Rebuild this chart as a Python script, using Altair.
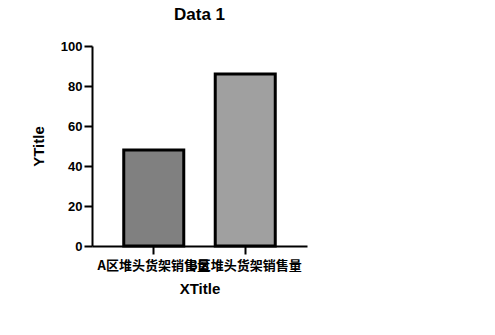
import altair as alt
import pandas as pd

categories = ["A区堆头货架销售量", "B区堆头货架销售量"]
values = [48, 86]
colors = ["#808080", "#a0a0a0"]

df = pd.DataFrame({"cat": categories, "val": values, "color": colors})

chart = alt.Chart(df).mark_bar(stroke="black", strokeWidth=3).encode(
    x=alt.X("cat:N", sort=categories, title="XTitle",
            scale=alt.Scale(paddingInner=0.344, paddingOuter=0.347),
            axis=alt.Axis(labelAngle=0, labelOverlap=False, labelFontSize=13,
                          labelFont="Noto Sans CJK SC", labelFontWeight="bold",
                          labelPadding=5, titlePadding=9)),
    y=alt.Y("val:Q", title="YTitle",
            scale=alt.Scale(domain=[0, 100]),
            axis=alt.Axis(values=[0, 20, 40, 60, 80, 100], grid=False,
                          labelFontSize=13, labelFontWeight="bold",
                          labelPadding=2, titlePadding=14)),
    fill=alt.Fill("color:N", scale=None),
).properties(
    width=215, height=200,
    background="white",
    title=alt.Title("Data 1", fontSize=17, fontWeight="bold", font="Liberation Sans",
                    color="black", offset=16),
    autosize=alt.AutoSizeParams(type="none"),
    padding={"left": 92, "top": 46, "right": 188, "bottom": 89},
).configure_axis(
    domainColor="black", domainWidth=2, tickColor="black", tickWidth=2, tickSize=8,
    labelColor="black", titleColor="black", labelFont="Liberation Sans",
    titleFont="Liberation Sans", titleFontSize=15, titleFontWeight="bold",
).configure_view(strokeWidth=0)

chart.save("out.html", embed_options={"renderer": "svg", "actions": False})
